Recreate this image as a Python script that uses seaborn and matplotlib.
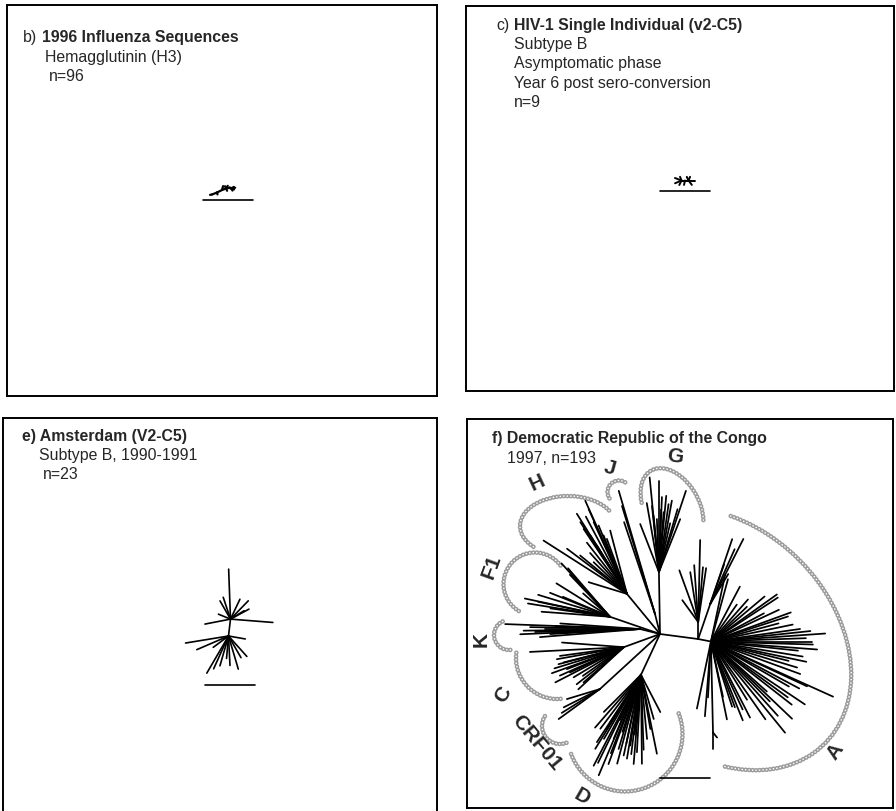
import numpy as np
import pandas as pd
import matplotlib
matplotlib.use("Agg")
import matplotlib.pyplot as plt
from matplotlib.patches import Arc
import seaborn as sns

FIG_W, FIG_H = 896, 812
PX_PER_SUB = 500.0          # drawing scale: pixels per substitution/site
SCALE_BAR = 0.10            # length of the scale bar in substitutions/site

# ---------------- b) 1996 influenza, hemagglutinin H3 ----------------
B_NODES = ["b1", "b2", "b3", "b4"]
B_PARENTS = ["root", "b1", "b2", "b3"]
B_ANGLES = [21.8, 26.6, 20.6, 0.0]
B_LENGTHS = [0.011, 0.011, 0.009, 0.010]
B_LEAF_PARENTS = ["root", "b1", "b2", "b3", "b3", "b3", "b4", "b4", "b4", "b4", "b4"]
B_LEAF_ANGLES = [190, -80, 75, 60, -70, 120, 30, -20, -60, 10, 150]
B_LEAF_LENGTHS = [0.004, 0.004, 0.008, 0.006, 0.005, 0.005, 0.006, 0.006, 0.005, 0.008, 0.004]

# ---------------- c) HIV-1 single individual (V2-C5) ----------------
C_NODES = ["cl", "cr"]
C_PARENTS = ["root", "root"]
C_ANGLES = [180.0, 0.0]
C_LENGTHS = [0.007, 0.007]
C_LEAF_PARENTS = ["cl", "cl", "cl", "cl", "cr", "cr", "cr", "cr", "root"]
C_LEAF_ANGLES = [159, 111.5, 203.3, 244, 115, -52.7, 0, 66.8, 257.5]
C_LEAF_LENGTHS = [0.014, 0.008, 0.014, 0.010, 0.008, 0.011, 0.012, 0.008, 0.009]

# ---------------- e) Amsterdam (V2-C5) ----------------
E_NODES = ["e1"]
E_PARENTS = ["root"]
E_ANGLES = [83.3]
E_LENGTHS = [0.034]
E_LEAF_PARENTS = ["e1"] * 10 + ["root"] * 12
E_LEAF_ANGLES = [92.1, 119.9, 108.4, 64.6, 45.8, 28.4, 157.7, -4.5, 191, 31.6,
                 189.3, 203.3, -48.1, -73.5, -87.1, -106, -120.3, -114.4, 216.6, -10, -60, -95]
E_LEAF_LENGTHS = [0.100, 0.042, 0.046, 0.044, 0.051, 0.042, 0.026, 0.085, 0.052, 0.032,
                  0.087, 0.069, 0.055, 0.069, 0.059, 0.062, 0.086, 0.072, 0.038, 0.034, 0.050, 0.045]

# ---------------- f) Democratic Republic of the Congo, 1997 ----------------
F_NODES = ["M", "R0", "U1", "U2", "G0", "J0", "H0", "F0", "K0", "C0", "CR0", "D0", "Ad"]
F_PARENTS = ["root", "M", "M", "M", "root", "root", "root", "root", "root", "root", "root", "root", "R0"]
F_ANGLES = [-7.5, -11, 90, 71, 91, 104, 129.5, 161, 166, 200, 222.5, 245, -88.7]
F_LENGTHS = [0.077, 0.026, 0.034, 0.074, 0.124, 0.041, 0.104, 0.106, 0.041, 0.077, 0.163, 0.090, 0.182]

F_U1_ANGLES = [110, 99, 88.6, 85, 81.6, 126, 94]
F_U1_LENGTHS = [0.110, 0.101, 0.164, 0.110, 0.109, 0.054, 0.114]
F_U2_ANGLES = [71.3, 63, 59, 70.7, 66]
F_U2_LENGTHS = [0.137, 0.146, 0.070, 0.084, 0.120]
F_G_ANGLES = [95.6, 90, 87.7, 84.5, 81.9, 79.7, 73.5, 68.1, 111.3, 96, 95.4, 85.5, 92.2, 71.6, 100, 88, 77]
F_G_LENGTHS = [0.190, 0.183, 0.150, 0.153, 0.137, 0.145, 0.131, 0.114, 0.103, 0.133, 0.113, 0.120, 0.106, 0.171, 0.140, 0.125, 0.100]
F_J_ANGLES = [106.4, 107, 108.6]
F_J_LENGTHS = [0.257, 0.226, 0.194]
F_H_ANGLES = [114.1, 122, 114.3, 114.9, 112.5, 111.8, 104.8, 110, 147.4, 163,
              123, 123.7, 122, 121.8, 143, 140.6, 136.4, 118, 128, 132]
F_H_LENGTHS = [0.204, 0.189, 0.186, 0.158, 0.148, 0.126, 0.131, 0.117, 0.198, 0.080,
               0.171, 0.156, 0.138, 0.114, 0.150, 0.121, 0.092, 0.175, 0.130, 0.110]
F_F1_ANGLES = [132.2, 130.8, 132, 138.9, 148, 167.9, 170.8, 175.8, 168.2, 133.6, 158.2, 157, 163, 172]
F_F1_LENGTHS = [0.144, 0.128, 0.090, 0.071, 0.126, 0.174, 0.166, 0.137, 0.147, 0.116, 0.129, 0.102, 0.150, 0.120]
F_K_ANGLES = [177.9, 180.8, 179, 181.6, 180, 178, 183.2, 181.5, 184.6, 176, 182.5]
F_K_LENGTHS = [0.270, 0.233, 0.220, 0.210, 0.190, 0.170, 0.180, 0.150, 0.201, 0.160, 0.240]
F_C_ANGLES = [182.9, 199.9, 207.2, 222.8, 187.8, 190.2, 194.6, 201.1, 211, 221.2,
              194.2, 205.2, 218.2, 175.7, 197, 204, 215]
F_C_LENGTHS = [0.188, 0.153, 0.154, 0.124, 0.129, 0.136, 0.135, 0.122, 0.117, 0.107,
               0.124, 0.119, 0.120, 0.124, 0.145, 0.140, 0.100]
F_CRF01_ANGLES = [206.8, 216, 196.9, 212]
F_CRF01_LENGTHS = [0.081, 0.102, 0.069, 0.090]
F_D_ANGLES = [242.5, 247.2, 265.3, 270.6, 281.4, 297.4, 286.1, 225, 238.3, 237.8, 246.9,
              253.2, 257.9, 260.5, 261.4, 267, 275.4, 279.8, 237, 233, 236.8, 250,
              255, 244, 263, 240, 249, 258, 252, 245, 229, 264, 272]
F_D_LENGTHS = [0.205, 0.218, 0.179, 0.178, 0.161, 0.084, 0.092, 0.105, 0.174, 0.128, 0.139,
               0.155, 0.165, 0.170, 0.143, 0.155, 0.129, 0.110, 0.113, 0.135, 0.161, 0.190,
               0.184, 0.196, 0.160, 0.148, 0.168, 0.140, 0.120, 0.100, 0.140, 0.120, 0.150]
F_A_ANGLES = [78, 74.7, 62.2, 48.6, 35.5, 33.3, 18, 11.7, 4, 0, -4.3, -1.7, -16.8, -9.3,
              -24.3, -25, -33.8, -43.6, -50.9, -45.5, -41.8, -62.8, -58.2, -70, -78.4, -72,
              -77.7, -101.8, -94.6, -93, 25, 20, 15, 8, 6, 2, -6, -12, -14, -20, -28, -30,
              -36, -38, -48, -55, -65, -68, 28, 40, 44, 55]
F_A_LENGTHS = [0.137, 0.129, 0.124, 0.112, 0.162, 0.160, 0.162, 0.167, 0.229, 0.202, 0.213,
               0.204, 0.180, 0.186, 0.268, 0.212, 0.226, 0.224, 0.235, 0.168, 0.150, 0.171,
               0.137, 0.140, 0.159, 0.137, 0.113, 0.137, 0.150, 0.112, 0.150, 0.170, 0.140,
               0.180, 0.200, 0.190, 0.175, 0.195, 0.160, 0.190, 0.200, 0.180, 0.190, 0.205,
               0.200, 0.190, 0.150, 0.170, 0.120, 0.140, 0.100, 0.090]
F_AD_ANGLES = [-90, -51]
F_AD_LENGTHS = [0.034, 0.013]

F_LEAF_GROUPS = {
    "U1": (F_U1_ANGLES, F_U1_LENGTHS), "U2": (F_U2_ANGLES, F_U2_LENGTHS),
    "G0": (F_G_ANGLES, F_G_LENGTHS), "J0": (F_J_ANGLES, F_J_LENGTHS),
    "H0": (F_H_ANGLES, F_H_LENGTHS), "F0": (F_F1_ANGLES, F_F1_LENGTHS),
    "K0": (F_K_ANGLES, F_K_LENGTHS), "C0": (F_C_ANGLES, F_C_LENGTHS),
    "CR0": (F_CRF01_ANGLES, F_CRF01_LENGTHS), "D0": (F_D_ANGLES, F_D_LENGTHS),
    "R0": (F_A_ANGLES, F_A_LENGTHS), "Ad": (F_AD_ANGLES, F_AD_LENGTHS),
}

# subtype labels and their bracket arcs (centre, width, height, tilt, start, end)
SUBTYPES = ["G", "J", "H", "F1", "K", "C", "CRF01", "D", "A"]
LABEL_XY = [(675, 457), (610, 468), (537, 483), (492, 567), (481, 640),
            (503, 695), (537, 743), (582, 797), (835, 752)]
LABEL_ROT = [-8, -15, 25, 70, 90, 60, -50, -30, 55]
ARC_CENTER = [(672, 508), (619, 493), (568, 527), (535, 585), (509, 636),
              (557, 659), (560, 727), (625, 735), (720, 640)]
ARC_SIZE = [(84, 54), (23, 23), (96, 60), (63, 63), (30, 30),
            (82, 82), (36, 36), (115, 115), (296, 224)]
ARC_TILT = [-120, 0, 0, 0, 0, 0, 0, 0, 45]
ARC_SPAN = [(-52, 145), (146, 312), (149, 342), (121, 330), (85, 255),
            (85, 189), (69, 218), (-21, 160), (-130, 43)]


def tree_segments(root_xy, nodes, parents, angles, lengths, leaf_groups):
    """Lay out an unrooted tree: each branch leaves its parent at a given angle."""
    pos = {"root": root_xy}
    rows = []
    seg = 0

    def add(par, ang, ln):
        nonlocal seg
        x0, y0 = pos[par]
        r = ln * PX_PER_SUB
        x1 = x0 + r * np.cos(np.radians(ang))
        y1 = y0 - r * np.sin(np.radians(ang))
        rows.append((seg, x0, y0))
        rows.append((seg, x1, y1))
        seg += 1
        return x1, y1

    for name, par, ang, ln in zip(nodes, parents, angles, lengths):
        pos[name] = add(par, ang, ln)
    for par, (angs, lens) in leaf_groups.items():
        for ang, ln in zip(angs, lens):
            add(par, ang, ln)
    return pd.DataFrame(rows, columns=["seg", "x", "y"])


def leaf_dict(parents, angles, lengths):
    groups = {}
    for p, a, l in zip(parents, angles, lengths):
        groups.setdefault(p, ([], []))
        groups[p][0].append(a)
        groups[p][1].append(l)
    return groups


sns.set_theme(style="white")
plt.rcParams["font.family"] = ["Liberation Sans", "DejaVu Sans"]
plt.rcParams["lines.scale_dashes"] = False

fig = plt.figure(figsize=(FIG_W / 100, FIG_H / 100), dpi=100)
fig.patch.set_facecolor("white")


def panel(rect):
    left, top, right, bottom = rect
    ax = fig.add_axes([left / FIG_W, 1 - bottom / FIG_H,
                       (right - left) / FIG_W, (bottom - top) / FIG_H])
    return ax


def finish(ax, rect):
    left, top, right, bottom = rect
    ax.set_xlim(left, right)
    ax.set_ylim(bottom, top)
    ax.set_xticks([])
    ax.set_yticks([])
    ax.set_xlabel("")
    ax.set_ylabel("")
    for sp in ax.spines.values():
        sp.set_visible(True)
        sp.set_color("black")
        sp.set_linewidth(1.4)


def draw_tree(ax, df, lw):
    sns.lineplot(data=df, x="x", y="y", units="seg", estimator=None, sort=False,
                 color="black", linewidth=lw, ax=ax, legend=False)


def scale_bar(ax, x0, y0):
    bar = pd.DataFrame({"x": [x0, x0 + SCALE_BAR * PX_PER_SUB], "y": [y0, y0]})
    sns.lineplot(data=bar, x="x", y="y", estimator=None, sort=False,
                 color="black", linewidth=1.2, ax=ax, legend=False)


FS = 11.4

# ---- panel b
rect_b = (7, 6, 437, 397)
ax = panel(rect_b)
draw_tree(ax, tree_segments((212, 195.5), B_NODES, B_PARENTS, B_ANGLES, B_LENGTHS,
                            leaf_dict(B_LEAF_PARENTS, B_LEAF_ANGLES, B_LEAF_LENGTHS)), 1.6)
scale_bar(ax, 203, 201)
ax.text(22.7, 42.3, "b)", fontsize=FS, va="baseline")
ax.text(41.7, 42.3, "1996 Influenza Sequences", fontsize=FS, fontweight="bold", va="baseline")
ax.text(45, 61.8, "Hemagglutinin (H3)", fontsize=FS, va="baseline")
ax.text(49.3, 81.3, "n=96", fontsize=FS, va="baseline")
finish(ax, rect_b)

# ---- panel c
rect_c = (466, 7, 894, 392)
ax = panel(rect_c)
draw_tree(ax, tree_segments((685, 181.5), C_NODES, C_PARENTS, C_ANGLES, C_LENGTHS,
                            leaf_dict(C_LEAF_PARENTS, C_LEAF_ANGLES, C_LEAF_LENGTHS)), 1.4)
scale_bar(ax, 660, 192)
ax.text(496.7, 30.3, "c)", fontsize=FS, va="baseline")
ax.text(514, 30.3, "HIV-1 Single Individual (v2-C5)", fontsize=FS, fontweight="bold", va="baseline")
for i, line in enumerate(["Subtype B", "Asymptomatic phase",
                          "Year 6 post sero-conversion", "n=9"]):
    ax.text(514, 49.3 + 19.1 * i, line, fontsize=FS, va="baseline")
finish(ax, rect_c)

# ---- panel e
rect_e = (3, 419, 437, 815)
ax = panel(rect_e)
draw_tree(ax, tree_segments((228.5, 637), E_NODES, E_PARENTS, E_ANGLES, E_LENGTHS,
                            leaf_dict(E_LEAF_PARENTS, E_LEAF_ANGLES, E_LEAF_LENGTHS)), 1.2)
scale_bar(ax, 204.5, 686)
ax.text(21.7, 440.7, "e) Amsterdam (V2-C5)", fontsize=FS, fontweight="bold", va="baseline")
ax.text(39.3, 460.5, "Subtype B, 1990-1991", fontsize=FS, va="baseline")
ax.text(43.3, 479.5, "n=23", fontsize=FS, va="baseline")
finish(ax, rect_e)

# ---- panel f
rect_f = (467, 420, 893, 809)
ax = panel(rect_f)
for (cx, cy), (w, h), tilt, (t1, t2) in zip(ARC_CENTER, ARC_SIZE, ARC_TILT, ARC_SPAN):
    outer = Arc((cx, cy), w, h, angle=tilt, theta1=t1, theta2=t2, color="#9c9c9c",
                lw=3.4, linestyle=(0, (0.01, 2.5)), capstyle="round", zorder=1)
    inner = Arc((cx, cy), w, h, angle=tilt, theta1=t1, theta2=t2, color="white",
                lw=1.2, linestyle=(0, (0.01, 2.5)), capstyle="round", zorder=1.1)
    ax.add_patch(outer)
    ax.add_patch(inner)
draw_tree(ax, tree_segments((660, 635), F_NODES, F_PARENTS, F_ANGLES, F_LENGTHS,
                            F_LEAF_GROUPS), 1.25)
scale_bar(ax, 660, 779)
for lab, (lx, ly), rot in zip(SUBTYPES, LABEL_XY, LABEL_ROT):
    ax.text(lx, ly, lab, fontsize=15, fontweight="bold", rotation=rot,
            ha="center", va="center", rotation_mode="anchor")
ax.text(491.7, 442.7, "f) Democratic Republic of the Congo", fontsize=FS,
        fontweight="bold", va="baseline")
ax.text(506.7, 462.7, "1997, n=193", fontsize=FS, va="baseline")
finish(ax, rect_f)

fig.savefig("out.png", dpi=100, facecolor="white")
